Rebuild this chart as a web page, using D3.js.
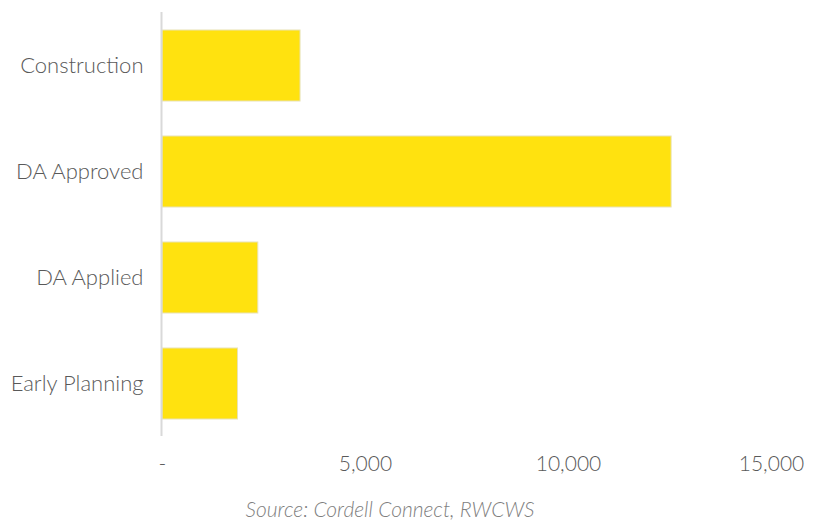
<!DOCTYPE html>
<html>
<head>
<meta charset="utf-8">
<script src="https://cdn.jsdelivr.net/npm/d3@7"></script>
<style>
  html, body { margin: 0; padding: 0; background: #fff; }
  svg { display: block; font-family: Lato, "Open Sans", sans-serif; }
</style>
</head>
<body>
<svg id="chart" width="820" height="520"></svg>
<script>
// Project pipeline by stage (dwellings)
const categories = ["Construction", "DA Approved", "DA Applied", "Early Planning"];
const values = [3400, 12540, 2360, 1860];
const tickValues = [0, 5000, 10000, 15000];
const tickLabels = ["-", "5,000", "10,000", "15,000"];
const sourceNote = "Source: Cordell Connect, RWCWS";

const svg = d3.select("#chart");

const x = d3.scaleLinear().domain([0, 15000]).range([162, 771]);
const y = d3.scaleBand().domain(categories).range([12.5, 436.5]).paddingInner(0.33).paddingOuter(0.165);

// bars
svg.append("g").selectAll("rect")
  .data(categories)
  .join("rect")
  .attr("x", x(0))
  .attr("y", d => y(d))
  .attr("width", (d, i) => x(values[i]) - x(0))
  .attr("height", y.bandwidth())
  .attr("fill", "#FFE20F")
  .attr("stroke", "#e8e2b8")
  .attr("stroke-width", 1);

// vertical category axis
const yAxis = svg.append("g")
  .attr("transform", `translate(${x(0) - 0.5},0)`)
  .call(d3.axisLeft(y).tickSize(0).tickPadding(18));
yAxis.select(".domain").attr("stroke", "#d9d9d9").attr("stroke-width", 2)
  .attr("d", "M0,12V436");
yAxis.selectAll("text")
  .attr("fill", "#595959")
  .attr("dy", "0.33em")
  .style("font-size", "22px")
  .style("font-weight", "300")
  .style("font-family", "Lato, sans-serif");

// value axis (labels only)
const xAxis = svg.append("g")
  .attr("transform", "translate(0,456)")
  .call(d3.axisBottom(x).tickValues(tickValues)
    .tickFormat((d, i) => tickLabels[i]).tickSize(0).tickPadding(0));
xAxis.select(".domain").remove();
xAxis.selectAll("text")
  .attr("fill", "#595959")
  .attr("dy", "0.71em")
  .style("font-size", "21px")
  .style("font-weight", "300")
  .style("font-family", "Lato, sans-serif");

// source note
svg.append("text")
  .attr("x", 390)
  .attr("y", 517)
  .attr("text-anchor", "middle")
  .attr("fill", "#7f7f7f")
  .style("font-size", "21px")
  .style("font-style", "italic")
  .style("font-weight", "300")
  .style("font-family", "Lato, sans-serif")
  .text(sourceNote);
</script>
</body>
</html>
